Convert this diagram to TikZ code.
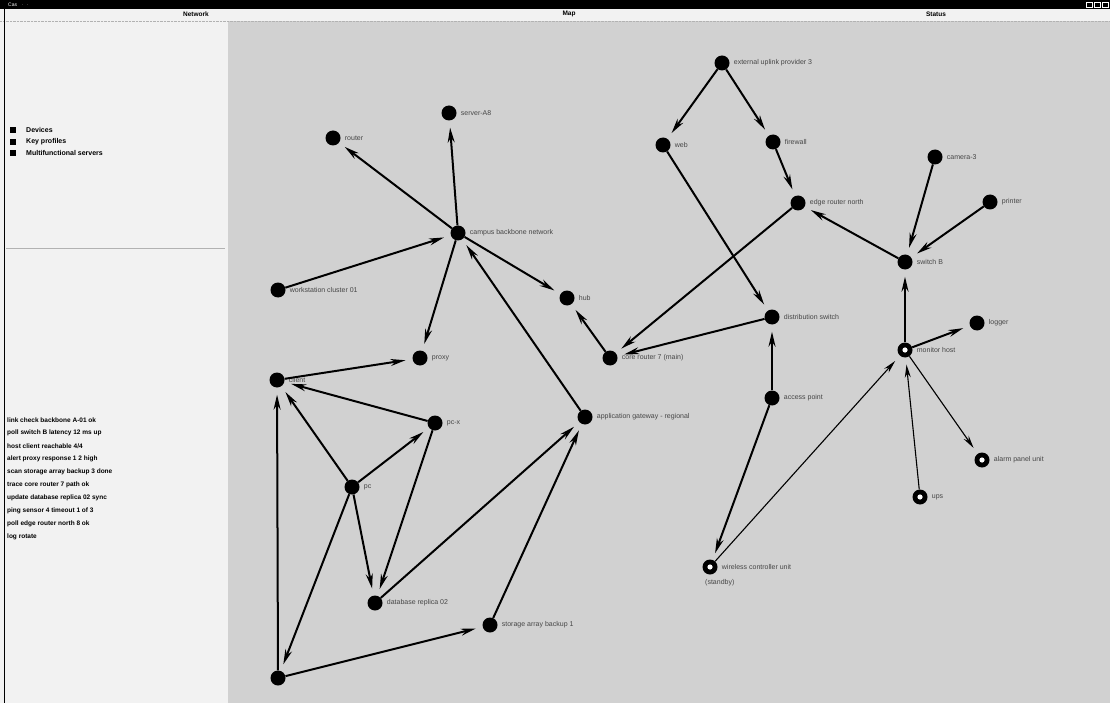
\documentclass[tikz,border=0pt]{standalone}
\usepackage{fontspec}
\setmainfont{Liberation Sans}
\usetikzlibrary{arrows.meta}
\tikzset{
  hostdot/.style={circle, fill=black, inner sep=0pt, minimum size=15pt},
  ringdot/.style={hostdot, path picture={\fill[white] (path picture bounding box.center) circle (2.6pt);}},
  netlabel/.style={font=\fontsize{7}{8}\selectfont, text=gray!55!black, inner sep=1pt},
  linkarrow/.style={-{Stealth[length=15pt,width=7pt]}, line width=2pt, shorten >=7pt},
  thinlink/.style={-{Stealth[length=13pt,width=6pt]}, line width=1.1pt, shorten >=7pt},
  legendbox/.style={fill=black, minimum size=6pt, inner sep=0pt},
  legendtext/.style={font=\fontsize{7}{8}\selectfont\bfseries, anchor=west, inner sep=0pt},
  listentry/.style={font=\fontsize{6.5}{7}\selectfont\bfseries, anchor=west, inner sep=0pt},
  headtext/.style={font=\fontsize{6.5}{7}\selectfont\bfseries, inner sep=0pt}
}

\begin{document}
\begin{tikzpicture}[x=1pt, y=-1pt, label distance=3pt, every label/.style={netlabel}]
  \useasboundingbox (0,0) rectangle (1110,703);
  % window frame
  \fill[gray!10] (0,0) rectangle (1110,703);
  \fill[gray!36] (228,21) rectangle (1110,703);
  \fill[black] (0,0) rectangle (1110,9);
  \node[font=\fontsize{5}{5}\selectfont, text=white, anchor=west, inner sep=0pt] (wintitle) at (8,4.5) {Cas \ \ $\cdot$ \ $\cdot$};
  \foreach \bx in {1086,1094,1102}
    \draw[white, line width=0.6pt] (\bx,2) rectangle ++(6,5);
  \draw[gray!60, densely dotted] (0,21) -- (1110,21);
  \draw[black, line width=1pt] (4,9) -- (4,703);
  \node[headtext] (headnet) at (196,14) {Network};
  \node[headtext] (headmap) at (569,14) {Map};
  \node[headtext] (headstat) at (936,14) {Status};

  % legend
  \node[legendbox] (key1) at (13,130) {};
  \node[legendbox] (key2) at (13,142) {};
  \node[legendbox] (key3) at (13,153) {};
  \node[legendtext] at (26,130) {Devices};
  \node[legendtext] at (26,142) {Key profiles};
  \node[legendtext] at (26,153) {Multifunctional servers};
  \draw[gray!60] (6,248) -- (225,248);

  % event list
  \foreach \entry [count=\i] in {link check backbone A-01 ok, poll switch B latency 12 ms up,
      host client reachable 4/4, alert proxy response 1 2 high, scan storage array backup 3 done,
      trace core router 7 path ok, update database replica 02 sync, ping sensor 4 timeout 1 of 3,
      poll edge router north 8 ok, log rotate}
    \node[listentry] (entry\i) at (7,407+13*\i) {\entry};

  % hosts
  \node[hostdot, label=right:campus backbone network] (backbone) at (458,233) {};
  \node[hostdot, label=right:router] (router) at (333,138) {};
  \node[hostdot, label=right:server-A8] (serverA) at (449,113) {};
  \node[hostdot, label=right:workstation cluster 01] (wscluster) at (278,290) {};
  \node[hostdot, label=right:hub] (hub) at (567,298) {};
  \node[hostdot, label=right:proxy] (proxy) at (420,358) {};
  \node[hostdot, label=right:client] (client) at (277,380) {};
  \node[hostdot, label=right:pc-x] (pcx) at (435,423) {};
  \node[hostdot, label=right:pc] (pc) at (352,487) {};
  \node[hostdot, label=right:database replica 02] (dbrep) at (375,603) {};
  \node[hostdot, label=right:storage array backup 1] (storage) at (490,625) {};
  \node[hostdot] (laptop) at (278,678) {};
  \node[hostdot, label=right:application gateway - regional] (appgw) at (585,417) {};
  \node[hostdot, label=right:core router 7 (main)] (core) at (610,358) {};
  \node[hostdot, label=right:external uplink provider 3] (uplink) at (722,63) {};
  \node[hostdot, label=right:web] (web) at (663,145) {};
  \node[hostdot, label=right:firewall] (firewall) at (773,142) {};
  \node[hostdot, label=right:edge router north] (edge) at (798,203) {};
  \node[hostdot, label=right:distribution switch] (dist) at (772,317) {};
  \node[hostdot, label=right:access point] (ap) at (772,398) {};
  \node[ringdot, label=right:wireless controller unit] (wlc) at (710,567) {};
  \node[netlabel, anchor=west] (wlcnote) at (704,583) {(standby)};
  \node[hostdot, label=right:camera-3] (camera) at (935,157) {};
  \node[hostdot, label=right:printer] (printer) at (990,202) {};
  \node[hostdot, label=right:switch B] (switchb) at (905,262) {};
  \node[ringdot, label=right:monitor host] (monitor) at (905,350) {};
  \node[hostdot, label=right:logger] (logger) at (977,323) {};
  \node[ringdot, label=right:alarm panel unit] (alarm) at (982,460) {};
  \node[ringdot, label=right:ups] (ups) at (920,497) {};

  % links
  \draw[linkarrow] (backbone) -- (router);
  \draw[linkarrow] (backbone) -- (serverA);
  \draw[linkarrow] (wscluster) -- (backbone);
  \draw[linkarrow] (backbone) -- (hub);
  \draw[linkarrow] (backbone) -- (proxy);
  \draw[linkarrow] (appgw) -- (backbone);
  \draw[linkarrow] (core) -- (hub);
  \draw[linkarrow] (dist) -- (core);
  \draw[linkarrow] (edge) -- (core);
  \draw[linkarrow] (ap) -- (dist);
  \draw[linkarrow] (ap) -- (wlc);
  \draw[thinlink] (wlc) -- (monitor);
  \draw[linkarrow] (uplink) -- (web);
  \draw[linkarrow] (uplink) -- (firewall);
  \draw[linkarrow] (firewall) -- (edge);
  \draw[linkarrow] (web) -- (dist);
  \draw[linkarrow] (switchb) -- (edge);
  \draw[linkarrow] (camera) -- (switchb);
  \draw[linkarrow] (printer) -- (switchb);
  \draw[linkarrow] (monitor) -- (switchb);
  \draw[linkarrow] (monitor) -- (logger);
  \draw[thinlink] (monitor) -- (alarm);
  \draw[thinlink] (ups) -- (monitor);
  \draw[linkarrow] (client) -- (proxy);
  \draw[linkarrow] (pcx) -- (client);
  \draw[linkarrow] (pc) -- (client);
  \draw[linkarrow] (pc) -- (pcx);
  \draw[linkarrow] (pc) -- (dbrep);
  \draw[linkarrow] (pcx) -- (dbrep);
  \draw[linkarrow] (pc) -- (laptop);
  \draw[linkarrow] (laptop) -- (client);
  \draw[linkarrow] (laptop) -- (storage);
  \draw[linkarrow] (dbrep) -- (appgw);
  \draw[linkarrow] (storage) -- (appgw);
\end{tikzpicture}
\end{document}
